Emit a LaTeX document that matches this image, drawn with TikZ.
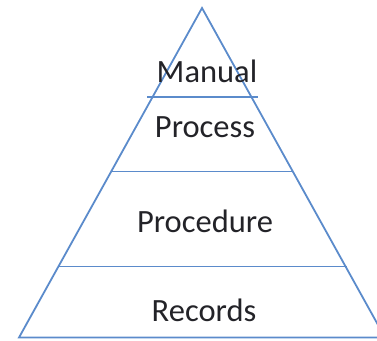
\documentclass[tikz,border=0pt]{standalone}
\usepackage{fontspec}
\setmainfont{Carlito}
\definecolor{pyrline}{RGB}{91,139,203}
\definecolor{pyrtext}{RGB}{35,35,40}
\tikzset{
  pyr/.style={draw=pyrline, line width=1.8pt, line join=miter},
  lvl/.style={pyrtext, font=\fontsize{32.5}{36}\selectfont, anchor=base, inner sep=0pt}
}
\begin{document}
\begin{tikzpicture}[x=1pt,y=-1pt]
\useasboundingbox (0,0) rectangle (377,340);
\clip (0,0) rectangle (377,340);
\coordinate (apex) at (202,8);
\coordinate (bl) at (19,337.5);
\coordinate (br) at (385,337.5);
\draw[pyr] (bl) -- (apex) -- (br) -- cycle;
\draw[pyr] (147,97) -- (258,97);
\draw[pyr] (112,171.5) -- (293,171.5);
\draw[pyr] (59,266.5) -- (347,266.5);
\node[lvl] (manual) at (207,82) {Manual};
\node[lvl] (process) at (205,137) {Process};
\node[lvl] (procedure) at (205,232) {Procedure};
\node[lvl] (records) at (204,321) {Records};
\end{tikzpicture}
\end{document}
